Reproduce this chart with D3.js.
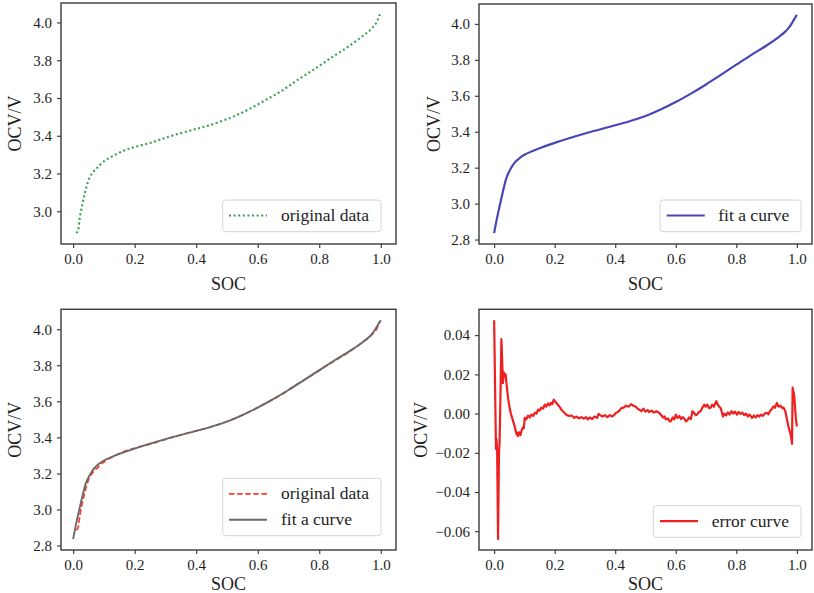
<!DOCTYPE html>
<html><head><meta charset="utf-8">
<script src="https://cdn.jsdelivr.net/npm/d3@7"></script>
<style>
body{margin:0;background:#fff}
svg text{font-family:"Liberation Serif","Times New Roman",serif !important;fill:#1e1e1e}
</style>
</head><body>
<svg id="c" width="814" height="593"></svg>
<script>
// ---- data ----
const originalData = [
 [0.010,2.885],[0.015,2.895],[0.022,2.970],[0.029,3.030],[0.035,3.075],[0.040,3.110],
 [0.048,3.155],[0.056,3.187],[0.067,3.212],[0.078,3.230],[0.095,3.258],[0.121,3.286],
 [0.150,3.310],[0.176,3.328],[0.210,3.345],[0.250,3.362],[0.284,3.380],[0.330,3.405],
 [0.393,3.433],[0.442,3.455],[0.512,3.496],[0.565,3.535],[0.621,3.585],[0.675,3.635],
 [0.730,3.696],[0.785,3.754],[0.838,3.812],[0.895,3.873],[0.947,3.935],[0.965,3.959],
 [0.979,3.984],[0.988,4.005],[0.995,4.037],[1.000,4.045]
];
const fitData = [
 [0.000,2.836],[0.006,2.890],[0.013,2.947],[0.024,3.030],[0.033,3.095],[0.041,3.145],
 [0.055,3.195],[0.068,3.228],[0.085,3.255],[0.100,3.272],[0.150,3.308],[0.200,3.338],
 [0.300,3.390],[0.400,3.436],[0.450,3.460],[0.500,3.488],[0.550,3.524],[0.600,3.565],
 [0.650,3.612],[0.700,3.663],[0.750,3.718],[0.800,3.773],[0.850,3.828],[0.900,3.880],
 [0.940,3.927],[0.960,3.954],[0.975,3.982],[0.990,4.022],[1.000,4.050]
];
const errorData = [
 [0.000,0.0476],[0.006,-0.018],[0.008,-0.013],[0.010,-0.020],[0.013,-0.064],[0.016,-0.020],
 [0.018,-0.015],[0.021,0.010],[0.024,0.038],[0.027,0.025],[0.029,0.0155],[0.032,0.021],
 [0.035,0.019],[0.038,0.020],[0.041,0.015],[0.046,0.008],[0.050,0.004],[0.055,0.000],
 [0.059,-0.002],[0.063,-0.004],[0.067,-0.006],[0.070,-0.008],[0.074,-0.0106],[0.077,-0.0098],
 [0.079,-0.0115],[0.083,-0.0095],[0.087,-0.011],[0.090,-0.009],[0.095,-0.007],[0.098,-0.0075],
 [0.101,-0.0022],[0.106,-0.003],[0.112,-0.0010],[0.118,-0.0020],[0.123,-0.0005],[0.129,-0.0012],
 [0.135,0.0005],[0.140,0.0000],[0.145,0.0020],[0.150,0.0015],[0.156,0.0030],[0.162,0.0025],
 [0.167,0.0046],[0.172,0.0035],[0.178,0.0052],[0.183,0.0042],[0.188,0.0055],[0.192,0.0048],
 [0.197,0.0071],[0.202,0.0060],[0.210,0.0046],[0.216,0.0035],[0.222,0.0020],[0.232,0.0004],
 [0.240,-0.0008],[0.248,-0.0012],[0.256,-0.0010],[0.265,-0.0022],[0.272,-0.0015],[0.280,-0.0025],
 [0.288,-0.0018],[0.296,-0.0026],[0.304,-0.0018],[0.309,-0.0030],[0.316,-0.0020],[0.324,-0.0028],
 [0.332,-0.0015],[0.340,-0.0022],[0.345,-0.0002],[0.350,-0.0008],[0.358,-0.0015],[0.366,-0.0008],
 [0.374,-0.0018],[0.382,-0.0008],[0.390,-0.0015],[0.398,-0.0005],[0.404,0.0005],[0.412,0.0012],
 [0.420,0.0028],[0.428,0.0030],[0.436,0.0040],[0.444,0.0035],[0.452,0.0048],[0.460,0.0040],
 [0.468,0.0035],[0.474,0.0025],[0.479,0.0020],[0.486,0.0012],[0.493,0.0025],[0.500,0.0010],
 [0.507,0.0018],[0.512,0.0008],[0.520,0.0015],[0.528,0.0005],[0.536,0.0012],[0.545,0.0004],
 [0.552,-0.0008],[0.558,-0.0020],[0.563,-0.0015],[0.567,-0.0030],[0.574,-0.0025],[0.580,-0.0040],
 [0.584,-0.0038],[0.590,-0.0020],[0.595,-0.0030],[0.600,-0.0005],[0.606,-0.0022],[0.612,-0.0012],
 [0.617,-0.0028],[0.622,-0.0018],[0.628,-0.0025],[0.634,-0.0040],[0.638,-0.0035],[0.644,-0.0020],
 [0.650,-0.0028],[0.655,0.0012],[0.660,0.0005],[0.666,-0.0008],[0.671,-0.0005],[0.676,0.0008],
 [0.682,0.0012],[0.688,0.0030],[0.694,0.0045],[0.699,0.0035],[0.704,0.0046],[0.710,0.0028],
 [0.715,0.0030],[0.720,0.0045],[0.726,0.0035],[0.730,0.0050],[0.734,0.0063],[0.738,0.0048],
 [0.743,0.0035],[0.748,0.0029],[0.752,0.0008],[0.756,-0.0015],[0.760,0.0000],[0.766,-0.0010],
 [0.772,0.0006],[0.778,-0.0005],[0.784,0.0012],[0.790,0.0000],[0.796,0.0010],[0.802,-0.0005],
 [0.808,0.0008],[0.814,-0.0002],[0.820,0.0005],[0.826,-0.0008],[0.832,0.0000],[0.838,-0.0015],
 [0.844,-0.0005],[0.852,-0.0022],[0.858,-0.0010],[0.864,-0.0020],[0.870,-0.0008],[0.876,-0.0015],
 [0.882,-0.0005],[0.888,-0.0012],[0.894,0.0000],[0.901,0.0004],[0.906,-0.0004],[0.912,0.0015],
 [0.918,0.0025],[0.923,0.0037],[0.928,0.0030],[0.934,0.0054],[0.940,0.0035],[0.946,0.0040],
 [0.951,0.0029],[0.956,0.0030],[0.962,0.0012],[0.966,-0.0020],[0.970,-0.0050],[0.973,-0.0072],
 [0.978,-0.0097],[0.981,-0.0120],[0.984,-0.0155],[0.986,0.0132],[0.989,0.0110],[0.991,0.0097],
 [0.994,0.0030],[0.997,-0.0030],[1.000,-0.0066]
];
const socTicks = [0, 0.2, 0.4, 0.6, 0.8, 1.0];
const ocvTicksTop = [3.0, 3.2, 3.4, 3.6, 3.8, 4.0];
const ocvTicks = [2.8, 3.0, 3.2, 3.4, 3.6, 3.8, 4.0];
const errTicks = [-0.06, -0.04, -0.02, 0.00, 0.02, 0.04];
const xLabel = "SOC", yLabel = "OCV/V";
const labelOriginal = "original data", labelFit = "fit a curve", labelError = "error curve";

// ---- layout ----
const FONT = '"Liberation Serif","Times New Roman",serif';
const svg = d3.select("#c");
const pad = ext => { const d = ext[1]-ext[0]; return [ext[0]-0.05*d, ext[1]+0.05*d]; };

const panels = [
  {box:[61,3,396,244], series:[{data:originalData, color:"#35a04f", w:2.1, dash:"2,2.6", curve:d3.curveCatmullRom}],
   yTicks:ocvTicksTop, fmt:".1f", ylabX:21, legend:{x:222.7,y:200,w:158.3,h:31.7, lx:229, tx:281},
   items:[{label:labelOriginal, s:0}]},
  {box:[479,4,812,244], series:[{data:fitData, color:"#4646b6", w:2.2, curve:d3.curveCatmullRom}],
   yTicks:ocvTicks, fmt:".1f", ylabX:440, legend:{x:660,y:200,w:141,h:31.7, lx:666.7, tx:718.3},
   items:[{label:labelFit, s:0}]},
  {box:[61,309.3,396,550], series:[{data:originalData, color:"#ff3b2a", w:1.7, dash:"5.5,2.6", curve:d3.curveCatmullRom},
                                   {data:fitData, color:"#6a6a6a", w:1.9, curve:d3.curveCatmullRom}],
   xdata:originalData, ydata:fitData.concat(originalData),
   yTicks:ocvTicks, fmt:".1f", ylabX:21, xlabY:590, legend:{x:222.7,y:478.3,w:158.3,h:57.4, lx:229, tx:281},
   items:[{label:labelOriginal, s:0},{label:labelFit, s:1}]},
  {box:[479,309.3,812,550], series:[{data:errorData, color:"#ee2020", w:2.2, curve:d3.curveLinear}],
   yTicks:errTicks, fmt:".2f", ylabX:427, xlabY:590, legend:{x:653.3,y:505.7,w:147.7,h:31.6, lx:660, tx:711.7},
   items:[{label:labelError, s:0}]}
];

panels.forEach(p => {
  const [x0,y0,x1,y1] = p.box;
  const xd = p.xdata || p.series[0].data;
  const yd = p.ydata || p.series.flatMap(s => s.data);
  const x = d3.scaleLinear().domain(pad(d3.extent(xd, d=>d[0]))).range([x0,x1]);
  const y = d3.scaleLinear().domain(pad(d3.extent(yd, d=>d[1]))).range([y1,y0]);
  const g = svg.append("g");

  p.series.forEach(s => {
    const line = d3.line().x(d=>x(d[0])).y(d=>y(d[1])).curve(s.curve);
    g.append("path").datum(s.data).attr("d", line)
      .attr("fill","none").attr("stroke",s.color).attr("stroke-width",s.w)
      .attr("stroke-dasharray", s.dash || null).attr("stroke-linejoin","round");
  });

  const xa = g.append("g").attr("transform",`translate(0,${y1})`)
    .call(d3.axisBottom(x).tickValues(socTicks).tickFormat(d3.format(".1f")).tickSize(4).tickPadding(5));
  const ya = g.append("g").attr("transform",`translate(${x0},0)`)
    .call(d3.axisLeft(y).tickValues(p.yTicks).tickFormat(d3.format(p.fmt)).tickSize(4).tickPadding(5));
  [xa,ya].forEach(a => {
    a.attr("font-family", FONT).attr("font-size", 15);
    a.select(".domain").remove();
    a.selectAll("line").attr("stroke","#333").attr("stroke-width",1.1);
    a.selectAll("text").style("font-family", FONT).style("font-size","15px").attr("fill","#1e1e1e");
  });

  g.append("rect").attr("x",x0).attr("y",y0).attr("width",x1-x0).attr("height",y1-y0)
    .attr("fill","none").attr("stroke","#3a3a3a").attr("stroke-width",1.4);

  g.append("text").attr("x",(x0+x1)/2).attr("y",p.xlabY || (y1+46)).attr("text-anchor","middle")
    .style("font-size","18px").text(xLabel);
  g.append("text").attr("transform",`translate(${p.ylabX},${(y0+y1)/2}) rotate(-90)`)
    .attr("text-anchor","middle").style("font-size","18px").text(yLabel);

  const L = p.legend;
  g.append("rect").attr("x",L.x).attr("y",L.y).attr("width",L.w).attr("height",L.h)
    .attr("rx",3).attr("fill","#fff").attr("fill-opacity",0.85).attr("stroke","#d6d6d6").attr("stroke-width",1);
  p.items.forEach((it,i) => {
    const s = p.series[it.s];
    const cy = L.y + 15.5 + i*26;
    g.append("line").attr("x1",L.lx).attr("x2",L.lx+38).attr("y1",cy).attr("y2",cy)
      .attr("stroke",s.color).attr("stroke-width",s.w).attr("stroke-dasharray",s.dash||null);
    g.append("text").attr("x",L.tx).attr("y",cy+5.5).style("font-size","17.5px").text(it.label);
  });
});
</script>
</body></html>
